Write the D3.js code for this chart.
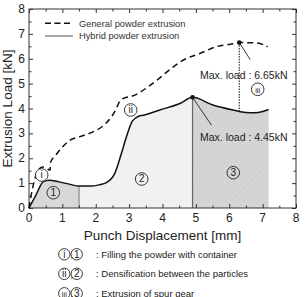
<!DOCTYPE html>
<html>
<head>
<meta charset="utf-8">
<script src="https://cdn.jsdelivr.net/npm/d3@7"></script>
<style>
  body { margin: 0; background: #fff; }
  text { font-family: "Liberation Sans", Arial, sans-serif; }
</style>
</head>
<body>
<div id="chart"></div>
<script>
// displacement [mm], load [kN]
const generalX = [0, 0.1, 0.25, 0.4, 0.55, 0.63, 0.65, 0.8, 1.0, 1.2, 1.5, 1.9, 2.3, 2.6, 2.7, 2.85, 3.1, 3.7, 4.3, 4.7, 5.1, 5.6, 6.1, 6.3, 6.8, 7.15];
const generalY = [0, 0.75, 1.45, 1.65, 1.58, 1.52, 1.85, 2.12, 2.45, 2.7, 2.86, 3.05, 3.4, 3.95, 4.25, 4.42, 4.5, 5.0, 5.65, 6.0, 6.2, 6.48, 6.6, 6.65, 6.64, 6.48];
const hybridX = [0, 0.2, 0.43, 0.6, 0.9, 1.2, 1.5, 1.83, 2.1, 2.32, 2.57, 2.77, 2.92, 3.1, 3.3, 3.42, 3.92, 4.52, 4.9, 5.51, 6.11, 6.5, 6.77, 7.0, 7.18];
const hybridY = [0, 0.5, 1.06, 1.12, 1.05, 0.96, 0.88, 0.88, 0.93, 1.02, 1.39, 2.2, 2.86, 3.5, 3.7, 3.73, 3.94, 4.2, 4.45, 4.14, 3.94, 3.84, 3.83, 3.88, 3.96];
const stageBounds = [0, 1.5, 4.9, 7.18];
const stageFills = ["#d8d8d8", "#f1f1f1", "#d5d5d5"];
const maxGeneral = { x: 6.3, y: 6.65, label: "Max. load : 6.65kN" };
const maxHybrid = { x: 4.9, y: 4.45, label: "Max. load : 4.45kN" };
const xTicks = [0, 1, 2, 3, 4, 5, 6, 7, 8];
const yTicks = [0, 1, 2, 3, 4, 5, 6, 7, 8];
const notes = [
  ["i", "1", ": Filling the powder with container"],
  ["ii", "2", ": Densification between the particles"],
  ["iii", "3", " : Extrusion of spur gear"]
];

const width = 305, height = 297;
const margin = { top: 9, right: 9, bottom: 89, left: 29 };

const svg = d3.select("#chart").append("svg")
  .attr("width", width).attr("height", height);

const x = d3.scaleLinear().domain([0, 8]).range([margin.left, width - margin.right]);
const y = d3.scaleLinear().domain([0, 8]).range([height - margin.bottom, margin.top]);

const general = generalX.map((d, i) => [d, generalY[i]]);
const hybrid = hybridX.map((d, i) => [d, hybridY[i]]);

const defs = svg.append("defs");
const hatch = defs.append("pattern").attr("id", "hatch")
  .attr("patternUnits", "userSpaceOnUse").attr("width", 5).attr("height", 5)
  .attr("patternTransform", "rotate(45)");
hatch.append("rect").attr("width", 5).attr("height", 5).attr("fill", stageFills[2]);
hatch.append("line").attr("x1", 0).attr("y1", 0).attr("x2", 0).attr("y2", 5)
  .attr("stroke", "#cbcbcb").attr("stroke-width", 1);

// interpolate hybrid curve to cut regions
function hybridAt(v) {
  for (let i = 1; i < hybrid.length; i++) {
    if (v <= hybrid[i][0]) {
      const a = hybrid[i - 1], b = hybrid[i];
      return a[1] + (b[1] - a[1]) * (v - a[0]) / (b[0] - a[0]);
    }
  }
  return hybrid[hybrid.length - 1][1];
}

const area = d3.area().curve(d3.curveMonotoneX)
  .x(d => x(d[0])).y0(y(0)).y1(d => y(d[1]));

for (let s = 0; s < 3; s++) {
  const lo = stageBounds[s], hi = stageBounds[s + 1];
  const pts = [[lo, hybridAt(lo)]]
    .concat(hybrid.filter(d => d[0] > lo && d[0] < hi))
    .concat([[hi, hybridAt(hi)]]);
  svg.append("path").datum(pts)
    .attr("d", area)
    .attr("fill", s === 2 ? "url(#hatch)" : stageFills[s]);
}

svg.append("line")
  .attr("x1", x(1.5)).attr("x2", x(1.5))
  .attr("y1", y(0)).attr("y2", y(hybridAt(1.5)))
  .attr("stroke", "#777").attr("stroke-width", 1);
svg.append("line")
  .attr("x1", x(4.9)).attr("x2", x(4.9))
  .attr("y1", y(0)).attr("y2", y(4.45))
  .attr("stroke", "#666").attr("stroke-width", 1.2);

// axes with inward ticks on all sides
const minorX = d3.range(0.5, 8, 1), minorY = d3.range(0.5, 8, 1);
function tickAxes(axisFn, scale, major, minor, transform) {
  svg.append("g").attr("transform", transform)
    .call(axisFn(scale).tickValues(major).tickSize(-4).tickFormat(""))
    .call(g => g.select(".domain").remove())
    .call(g => g.selectAll("line").attr("stroke", "#333"));
  svg.append("g").attr("transform", transform)
    .call(axisFn(scale).tickValues(minor).tickSize(-2.5).tickFormat(""))
    .call(g => g.select(".domain").remove())
    .call(g => g.selectAll("line").attr("stroke", "#333"));
}
tickAxes(d3.axisBottom, x, xTicks, minorX, `translate(0,${y(0)})`);
tickAxes(d3.axisTop, x, xTicks, minorX, `translate(0,${y(8)})`);
tickAxes(d3.axisLeft, y, yTicks, minorY, `translate(${x(0)},0)`);
tickAxes(d3.axisRight, y, yTicks, minorY, `translate(${x(8)},0)`);

svg.append("rect")
  .attr("x", x(0)).attr("y", y(8))
  .attr("width", x(8) - x(0)).attr("height", y(0) - y(8))
  .attr("fill", "none").attr("stroke", "#333").attr("stroke-width", 1);

svg.append("g").selectAll("text").data(xTicks).join("text")
  .attr("x", d => x(d)).attr("y", y(0) + 14)
  .attr("text-anchor", "middle").attr("font-size", 12).attr("fill", "#222")
  .text(d => d);
svg.append("g").selectAll("text").data(yTicks).join("text")
  .attr("x", x(0) - 4).attr("y", d => y(d) + 4)
  .attr("text-anchor", "end").attr("font-size", 12).attr("fill", "#222")
  .text(d => d);

svg.append("text")
  .attr("x", (x(0) + x(8)) / 2).attr("y", y(0) + 32)
  .attr("text-anchor", "middle").attr("font-size", 13.5).attr("fill", "#222")
  .text("Punch Displacement [mm]");
svg.append("text")
  .attr("transform", `translate(12,${(y(0) + y(8)) / 2}) rotate(-90)`)
  .attr("text-anchor", "middle").attr("font-size", 13.5).attr("fill", "#222")
  .text("Extrusion Load [kN]");

// curves
const line = d3.line().curve(d3.curveMonotoneX).x(d => x(d[0])).y(d => y(d[1]));
svg.append("path").datum(general).attr("d", line)
  .attr("fill", "none").attr("stroke", "#111").attr("stroke-width", 1.5)
  .attr("stroke-dasharray", "6,4");
svg.append("path").datum(hybrid).attr("d", line)
  .attr("fill", "none").attr("stroke", "#111").attr("stroke-width", 1.5);

// max load markers
svg.append("line")
  .attr("x1", x(maxGeneral.x)).attr("x2", x(maxGeneral.x))
  .attr("y1", y(maxGeneral.y)).attr("y2", y(hybridAt(maxGeneral.x)))
  .attr("stroke", "#333").attr("stroke-width", 1.2).attr("stroke-dasharray", "1.5,1.2");
svg.append("line")
  .attr("x1", x(maxGeneral.x)).attr("y1", y(maxGeneral.y))
  .attr("x2", x(maxGeneral.x) + 11).attr("y2", y(maxGeneral.y) + 17)
  .attr("stroke", "#333").attr("stroke-width", 1);
svg.append("line")
  .attr("x1", x(maxHybrid.x)).attr("y1", y(maxHybrid.y))
  .attr("x2", x(maxHybrid.x) + 19).attr("y2", y(maxHybrid.y) + 28)
  .attr("stroke", "#333").attr("stroke-width", 1);
[maxGeneral, maxHybrid].forEach(m => {
  svg.append("circle").attr("cx", x(m.x)).attr("cy", y(m.y)).attr("r", 2.3).attr("fill", "#111");
});
svg.append("text").attr("x", 200).attr("y", y(maxGeneral.y) + 36.5)
  .attr("font-size", 10.5).attr("fill", "#222").text(maxGeneral.label);
svg.append("text").attr("x", 200).attr("y", y(maxHybrid.y) + 44)
  .attr("font-size", 10.5).attr("fill", "#222").text(maxHybrid.label);

// circled labels
function circled(cx, cy, label, r) {
  svg.append("circle").attr("cx", cx).attr("cy", cy).attr("r", r)
    .attr("fill", "#fff").attr("fill-opacity", label.match(/\d/) ? 0 : 1)
    .attr("stroke", "#222").attr("stroke-width", 0.9);
  svg.append("text").attr("x", cx).attr("y", cy + 3.4)
    .attr("text-anchor", "middle").attr("font-size", label.length > 2 ? 7.5 : 10)
    .attr("fill", "#222").text(label);
}
circled(41.7, 175, "i", 6.3);
circled(130.7, 110, "ii", 6.3);
circled(257.7, 89.3, "iii", 6.3);
circled(53.3, 192.7, "1", 6.3);
circled(141.7, 179, "2", 6.3);
circled(233.3, 172.7, "3", 6.3);

// legend
svg.append("line").attr("x1", 45).attr("x2", 73).attr("y1", 23.3).attr("y2", 23.3)
  .attr("stroke", "#111").attr("stroke-width", 1.6).attr("stroke-dasharray", "6,3.5");
svg.append("text").attr("x", 79).attr("y", 26.7).attr("font-size", 9.3).attr("fill", "#333")
  .text("General powder extrusion");
svg.append("line").attr("x1", 45).attr("x2", 73).attr("y1", 36).attr("y2", 36)
  .attr("stroke", "#555").attr("stroke-width", 1);
svg.append("text").attr("x", 79).attr("y", 39.4).attr("font-size", 9.3).attr("fill", "#333")
  .text("Hybrid powder extrusion");

// notes
notes.forEach((n, i) => {
  const cy = 254.3 + i * 19.5;
  circled(64.3, cy, n[0], 5.7);
  svg.append("text").attr("x", 70.5).attr("y", cy + 4).attr("font-size", 9.5).attr("fill", "#222").text(",");
  circled(76.7, cy, n[1], 5.7);
  svg.append("text").attr("x", 96).attr("y", cy + 3.5).attr("font-size", 9.5).attr("fill", "#222").text(n[2]);
});
</script>
</body>
</html>
